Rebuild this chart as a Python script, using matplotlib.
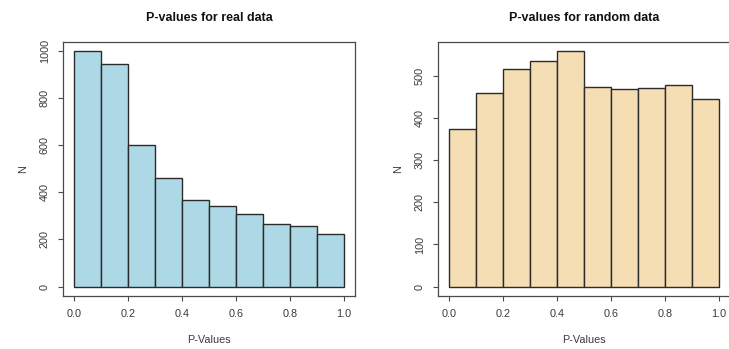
import numpy as np
import matplotlib
matplotlib.use("Agg")
import matplotlib.pyplot as plt

plt.rcParams['font.family'] = ['Liberation Sans', 'DejaVu Sans']

# histogram counts per 0.1-wide p-value bin
bin_edges = [0.0, 0.1, 0.2, 0.3, 0.4, 0.5, 0.6, 0.7, 0.8, 0.9, 1.0]
real_counts = [998, 946, 602, 462, 368, 341, 306, 266, 259, 224]
random_counts = [375, 460, 517, 535, 558, 474, 468, 470, 479, 446]

x_ticks = [0.0, 0.2, 0.4, 0.6, 0.8, 1.0]
real_yticks = [0, 200, 400, 600, 800, 1000]
random_yticks = [0, 100, 200, 300, 400, 500]

text_col = '#3a3a3a'
line_col = '#4a4a4a'

fig = plt.figure(figsize=(7.29, 3.49), dpi=100)
ax1 = fig.add_axes([63 / 729, 53 / 349, 292 / 729, 254 / 349])
ax2 = fig.add_axes([438 / 729, 53 / 349, 292 / 729, 254 / 349])


def r_hist(ax, counts, color, title, yticks):
    left = np.array(bin_edges[:-1])
    widths = np.diff(bin_edges)
    ax.bar(left, counts, width=widths, align='edge', color=color,
           edgecolor='#2b2b2b', linewidth=1.0)
    top = max(counts)
    ax.set_xlim(-0.04, 1.04)
    ax.set_ylim(-0.04 * top, 1.04 * top)
    ax.set_xticks(x_ticks)
    ax.set_xticklabels(['%.1f' % t for t in x_ticks])
    ax.set_yticks(yticks)
    ax.set_yticklabels([str(t) for t in yticks], rotation=90, va='center')
    ax.tick_params(direction='out', length=3.6, width=0.8, color=line_col,
                   labelsize=7.8, labelcolor=text_col)
    ax.tick_params(axis='x', pad=6)
    ax.tick_params(axis='y', pad=6)
    for s in ax.spines.values():
        s.set_color(line_col)
        s.set_linewidth(0.9)
    ax.set_title(title, fontsize=9, fontweight='bold', color='#111111', pad=15)
    ax.set_xlabel('P-Values', fontsize=7.8, color=text_col, labelpad=11)
    ax.set_ylabel('N', fontsize=7.8, color=text_col, labelpad=8)


r_hist(ax1, real_counts, '#add8e6', 'P-values for real data', real_yticks)
r_hist(ax2, random_counts, '#f5deb3', 'P-values for random data', random_yticks)

fig.savefig('out.png', dpi=100)
